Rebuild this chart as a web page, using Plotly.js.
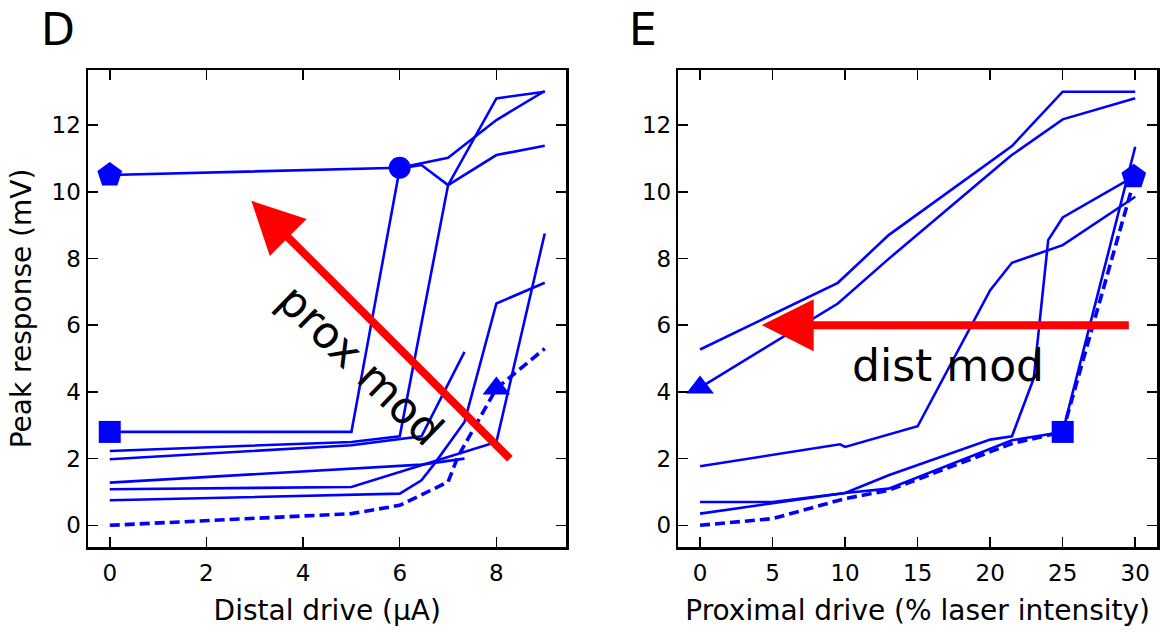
<!DOCTYPE html>
<html>
<head>
<meta charset="utf-8">
<script src="https://cdn.plot.ly/plotly-3.0.1.min.js"></script>
<style>html,body{margin:0;padding:0;background:#fff;}</style>
</head>
<body>
<div id="chart" style="width:1164px;height:632px;"></div>
<script>
// ---------- Panel D: Peak response vs distal drive ----------
const dLine1X = [0, 5, 6, 7, 8, 9];
const dLine1Y = [10.5, 10.7, 10.72, 11.02, 12.15, 13.02];
const dLine2X = [0, 5, 6, 6.45, 7, 8, 9];
const dLine2Y = [2.8, 2.8, 10.7, 10.8, 10.2, 11.1, 11.38];
const dLine3X = [0, 5, 6, 7, 8, 9];
const dLine3Y = [2.23, 2.5, 2.67, 10.2, 12.8, 13.0];
const dLine4X = [0, 5, 6.45, 7.34];
const dLine4Y = [1.98, 2.4, 2.67, 5.2];
const dLine5X = [0, 6.45, 7.34];
const dLine5Y = [1.28, 1.82, 2.0];
const dLine6X = [0, 5, 8, 9];
const dLine6Y = [1.08, 1.15, 2.5, 8.75];
const dLine7X = [0, 6, 6.45, 6.72, 7.34, 8, 9];
const dLine7Y = [0.75, 0.95, 1.35, 1.85, 3.1, 6.65, 7.27];
const dDashX = [0, 5, 6, 7, 7.2, 8, 9];
const dDashY = [0, 0.35, 0.6, 1.3, 2.05, 4.1, 5.3];
const dPentagon = {x: [0], y: [10.5]};
const dCircle = {x: [6], y: [10.72]};
const dSquare = {x: [0], y: [2.8]};
const dTriangle = {x: [8], y: [4.1]};
const dArrowFrom = [8.31, 1.95];
const dArrowTo = [2.93, 9.73];
const dLabelPos = [5.19, 4.83];

// ---------- Panel E: Peak response vs proximal drive ----------
const eLine1X = [0, 9.5, 13, 21.5, 25, 30];
const eLine1Y = [5.27, 7.27, 8.7, 11.37, 13.0, 13.0];
const eLine2X = [0, 9.5, 12.9, 21.4, 25, 30];
const eLine2Y = [4.13, 6.65, 7.95, 11.07, 12.17, 12.8];
const eLine3X = [0, 5, 10, 13, 20, 21.5, 23, 24, 25, 29.9];
const eLine3Y = [0.7, 0.7, 0.97, 1.5, 2.57, 2.67, 4.4, 8.55, 9.23, 10.45];
const eLine4X = [0, 10, 13, 21.5, 25, 30];
const eLine4Y = [0.35, 0.97, 1.1, 2.55, 2.8, 11.35];
const eLine5X = [0, 9.65, 10, 15, 20, 21.5, 25, 30];
const eLine5Y = [1.77, 2.43, 2.35, 2.97, 7.05, 7.87, 8.4, 9.85];
const eDashX = [0, 5, 10, 13, 21.5, 25, 29.7];
const eDashY = [0, 0.2, 0.8, 1.05, 2.45, 2.8, 10.0];
const eTriangle = {x: [0], y: [4.13]};
const eSquare = {x: [25], y: [2.8]};
const ePentagon = {x: [29.9], y: [10.45]};
const eArrowFrom = [29.66, 6.0];
const eArrowTo = [4.25, 6.0];
const eLabelPos = [17.07, 4.8];

const xTicksD = [0, 2, 4, 6, 8];
const xTicksE = [0, 5, 10, 15, 20, 25, 30];
const yTicks = [0, 2, 4, 6, 8, 10, 12];

const BLUE = '#0000ff';
const traces = [];
function solid(x, y, xa, ya) {
  traces.push({x: x, y: y, xaxis: xa, yaxis: ya, mode: 'lines', type: 'scatter',
    line: {color: BLUE, width: 2.6}, hoverinfo: 'skip'});
}
function dashed(x, y, xa, ya) {
  traces.push({x: x, y: y, xaxis: xa, yaxis: ya, mode: 'lines', type: 'scatter',
    line: {color: BLUE, width: 3.6, dash: '10px,5px'}, hoverinfo: 'skip'});
}
function marker(p, sym, size, xa, ya) {
  traces.push({x: p.x, y: p.y, xaxis: xa, yaxis: ya, mode: 'markers', type: 'scatter',
    marker: {symbol: sym, size: size, color: BLUE, line: {width: 0}}, cliponaxis: false, hoverinfo: 'skip'});
}

solid(dLine1X, dLine1Y, 'x', 'y');
solid(dLine2X, dLine2Y, 'x', 'y');
solid(dLine3X, dLine3Y, 'x', 'y');
solid(dLine4X, dLine4Y, 'x', 'y');
solid(dLine5X, dLine5Y, 'x', 'y');
solid(dLine6X, dLine6Y, 'x', 'y');
solid(dLine7X, dLine7Y, 'x', 'y');
dashed(dDashX, dDashY, 'x', 'y');
marker(dPentagon, 'pentagon', 26, 'x', 'y');
marker(dCircle, 'circle', 22, 'x', 'y');
marker(dSquare, 'square', 22, 'x', 'y');
marker(dTriangle, 'triangle-up', 24, 'x', 'y');

solid(eLine1X, eLine1Y, 'x2', 'y2');
solid(eLine2X, eLine2Y, 'x2', 'y2');
solid(eLine3X, eLine3Y, 'x2', 'y2');
solid(eLine4X, eLine4Y, 'x2', 'y2');
solid(eLine5X, eLine5Y, 'x2', 'y2');
dashed(eDashX, eDashY, 'x2', 'y2');
marker(eTriangle, 'triangle-up', 24, 'x2', 'y2');
marker(eSquare, 'square', 22, 'x2', 'y2');
marker(ePentagon, 'pentagon', 26, 'x2', 'y2');

const axisCommon = {
  showgrid: false, zeroline: false, showline: true, linecolor: '#000', linewidth: 2.5,
  mirror: 'allticks', ticks: 'inside', ticklen: 10, tickwidth: 1.5, tickcolor: '#000',
  tickfont: {family: 'DejaVu Sans', size: 23, color: '#000'}, fixedrange: true
};

const layout = {
  width: 1164, height: 632,
  margin: {l: 88, r: 7, t: 70, b: 85},
  paper_bgcolor: '#fff', plot_bgcolor: '#fff',
  showlegend: false,
  font: {family: 'DejaVu Sans', color: '#000', size: 23},
  xaxis: Object.assign({}, axisCommon, {domain: [0, 0.4476], range: [-0.45, 9.45], tickvals: xTicksD,
    anchor: 'y', ticklabelstandoff: 4, title: {text: 'Distal drive (μA)', font: {size: 28}, standoff: 16}}),
  yaxis: Object.assign({}, axisCommon, {domain: [0, 1], range: [-0.65, 13.65], tickvals: yTicks,
    anchor: 'x', title: {text: 'Peak response (mV)', font: {size: 28}, standoff: 12}}),
  xaxis2: Object.assign({}, axisCommon, {domain: [0.5522, 1], range: [-1.5, 31.5], tickvals: xTicksE,
    anchor: 'y2', ticklabelstandoff: 4, title: {text: 'Proximal drive (% laser intensity)', font: {size: 28}, standoff: 16}}),
  yaxis2: Object.assign({}, axisCommon, {domain: [0, 1], range: [-0.65, 13.65], tickvals: yTicks,
    anchor: 'x2'}),
  annotations: [
    {xref: 'x', yref: 'y', axref: 'x', ayref: 'y', x: dArrowTo[0], y: dArrowTo[1],
     ax: dArrowFrom[0], ay: dArrowFrom[1], text: '', showarrow: true, arrowhead: 2,
     arrowsize: 1.3, arrowwidth: 8, arrowcolor: '#ff0000', standoff: 0},
    {xref: 'x2', yref: 'y2', axref: 'x2', ayref: 'y2', x: eArrowTo[0], y: eArrowTo[1],
     ax: eArrowFrom[0], ay: eArrowFrom[1], text: '', showarrow: true, arrowhead: 2,
     arrowsize: 1.3, arrowwidth: 8, arrowcolor: '#ff0000', standoff: 0},
    {xref: 'x', yref: 'y', x: dLabelPos[0], y: dLabelPos[1], text: 'prox mod', showarrow: false,
     textangle: 44, font: {family: 'DejaVu Sans', size: 44, color: '#000'}, xanchor: 'center', yanchor: 'middle'},
    {xref: 'x2', yref: 'y2', x: eLabelPos[0], y: eLabelPos[1], text: 'dist mod', showarrow: false,
     font: {family: 'DejaVu Sans', size: 44, color: '#000'}, xanchor: 'center', yanchor: 'middle'},
    {xref: 'paper', yref: 'paper', x: -0.0463, y: 1.085, xanchor: 'left', yanchor: 'middle',
     text: 'D', showarrow: false, font: {family: 'DejaVu Sans', size: 44, color: '#000'}},
    {xref: 'paper', yref: 'paper', x: 0.504, y: 1.085, xanchor: 'left', yanchor: 'middle',
     text: 'E', showarrow: false, font: {family: 'DejaVu Sans', size: 44, color: '#000'}}
  ]
};

Plotly.newPlot('chart', traces, layout, {staticPlot: true, displayModeBar: false});
</script>
</body>
</html>
